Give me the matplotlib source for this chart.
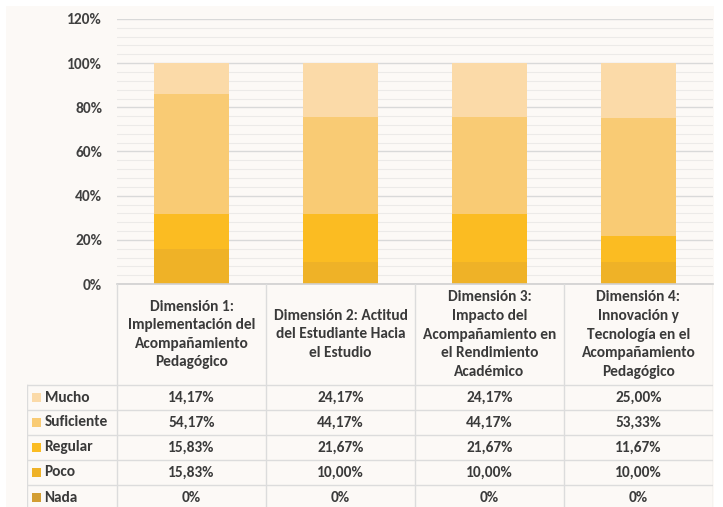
import matplotlib.pyplot as plt
import numpy as np
from matplotlib.patches import Rectangle
from matplotlib.ticker import MultipleLocator, PercentFormatter

plt.rcParams['font.family'] = ['Carlito', 'DejaVu Sans']

# datos
dimensiones = [
    "Dimensión 1:\nImplementación del\nAcompañamiento\nPedagógico",
    "Dimensión 2: Actitud\ndel Estudiante Hacia\nel Estudio",
    "Dimensión 3:\nImpacto del\nAcompañamiento en\nel Rendimiento\nAcadémico",
    "Dimensión 4:\nInnovación y\nTecnología en el\nAcompañamiento\nPedagógico",
]
niveles = ["Mucho", "Suficiente", "Regular", "Poco", "Nada"]
mucho = [14.17, 24.17, 24.17, 25.00]
suficiente = [54.17, 44.17, 44.17, 53.33]
regular = [15.83, 21.67, 21.67, 11.67]
poco = [15.83, 10.00, 10.00, 10.00]
nada = [0, 0, 0, 0]
colores = ["#FBDAA8", "#F9CB74", "#FBBC22", "#EFB227", "#D39E33"]

valores = [mucho, suficiente, regular, poco, nada]

W, H = 723, 507
fs = 11.1
tc = "#3A3A3A"
fig = plt.figure(figsize=(W / 100, H / 100), dpi=100)
fig.patch.set_facecolor("white")
fig.patches.append(Rectangle((6 / W, 0), 708 / W, 501 / H, transform=fig.transFigure,
                             facecolor="#FCF9F6", edgecolor="none", zorder=-5))

# ejes de las barras
left, right, top, bottom = 117, 713, 19, 284
ax = fig.add_axes([left / W, 1 - bottom / H, (right - left) / W, (bottom - top) / H])
ax.set_facecolor("none")
x = np.arange(len(dimensiones))
base = np.zeros(len(dimensiones))
# apilar de abajo hacia arriba: Nada, Poco, Regular, Suficiente, Mucho
for nivel, vals, col in reversed(list(zip(niveles, valores, colores))):
    v = np.array(vals) / 100
    ax.bar(x, v, bottom=base, width=0.51, color=col, edgecolor="none", zorder=3)
    base += v

ax.set_xlim(-0.5, 3.5)
ax.set_ylim(0, 1.2)
ax.yaxis.set_major_locator(MultipleLocator(0.2))
ax.yaxis.set_minor_locator(MultipleLocator(0.04))
ax.yaxis.set_major_formatter(PercentFormatter(1.0, decimals=0))
ax.grid(which="major", axis="y", color="#D9D9D9", lw=1.0, zorder=1)
ax.grid(which="minor", axis="y", color="#ECEAE8", lw=0.8, zorder=1)
ax.set_xticks([])
ax.tick_params(axis="y", which="both", length=0, pad=10.8, labelsize=fs, labelcolor="#404040")
for lab in ax.get_yticklabels():
    lab.set_fontweight("bold")
for s in ax.spines.values():
    s.set_visible(False)

# tabla de datos
px = 149.0  # pixeles por categoria
tleft = 27
tax = fig.add_axes([tleft / W, 0, (right - tleft) / W, (H - bottom) / H])
tax.set_xlim(-0.5 - (left - tleft) / px, 3.5)
tax.set_ylim(H - bottom, 0)
tax.axis("off")

def xp(p):
    return (p - left) / px - 0.5

head_h, row_h = 101, 25
lc = "#DCDCDC"
lab_x0 = xp(tleft)
tax.plot([-0.5, 3.5], [0, 0], color="#D0D0D0", lw=1.2, clip_on=False)
for k in range(5):
    tax.plot([k - 0.5, k - 0.5], [0, H], color=lc, lw=1.0)
tax.plot([lab_x0, lab_x0], [head_h, H], color=lc, lw=1.0)
for r in range(6):
    y = head_h + r * row_h
    tax.plot([lab_x0, 3.5], [y, y], color=lc, lw=1.0)

for i, d in enumerate(dimensiones):
    tax.text(i, head_h / 2, d, ha="center", va="center", fontsize=fs,
             fontweight="bold", color=tc, linespacing=1.42)

for r, (nivel, vals, col) in enumerate(zip(niveles, valores, colores)):
    yc = head_h + r * row_h + row_h / 2
    tax.add_patch(Rectangle((xp(32), yc - 4.5), 9 / px, 9, facecolor=col, edgecolor="none"))
    tax.text(xp(44.5), yc, nivel, ha="left", va="center", fontsize=fs,
             fontweight="bold", color=tc)
    for i, v in enumerate(vals):
        txt = "0%" if v == 0 else f"{v:.2f}%".replace(".", ",")
        tax.text(i, yc, txt, ha="center", va="center", fontsize=fs,
                 fontweight="bold", color=tc)

fig.savefig("out.png", dpi=100)
